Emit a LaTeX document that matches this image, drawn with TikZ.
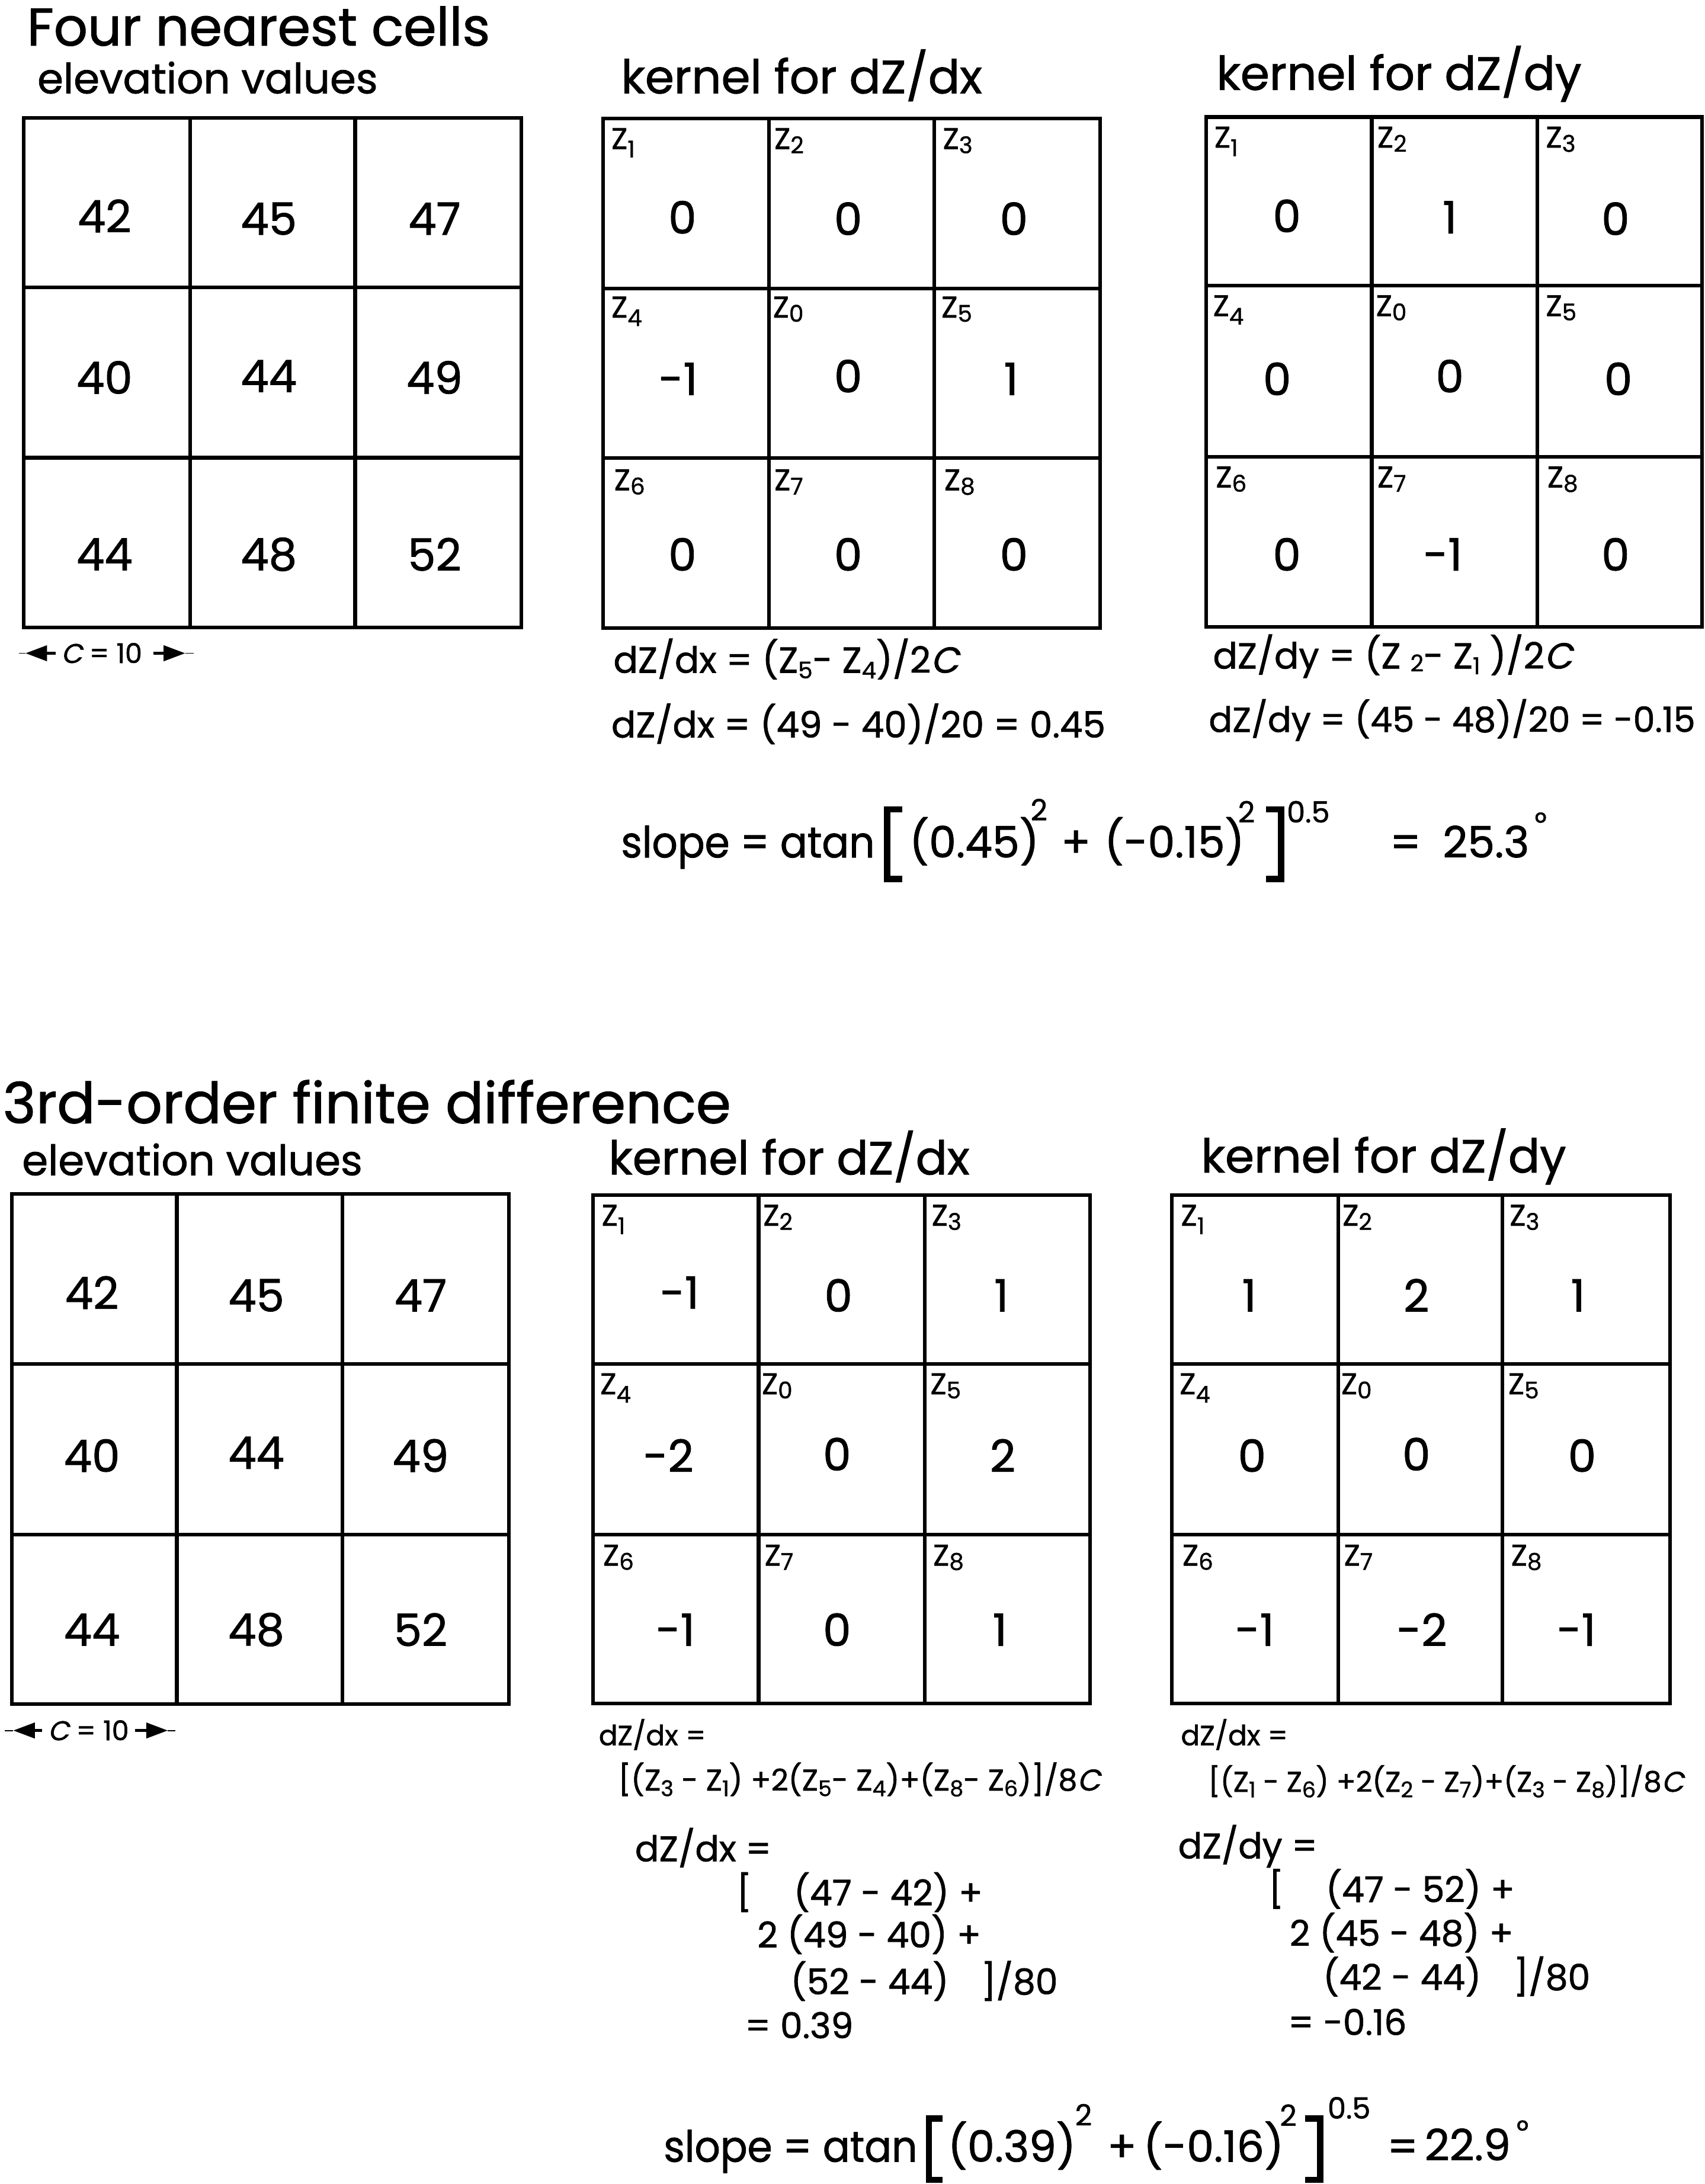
\documentclass[tikz,border=0pt]{standalone}
\usepackage{fontspec}
\setmainfont{Poppins}[FakeBold=1.2]
\newfontfamily\itC[FakeSlant=0.22,FakeBold=1.2]{Poppins}
\usetikzlibrary{arrows.meta}
\newcommand{\zsub}[2][4]{\raisebox{-#1pt}{\fontsize{16.5}{16.5}\selectfont #2}}
\newcommand{\zsb}[2][4]{\raisebox{-#1pt}{\fontsize{15.5}{15.5}\selectfont #2}}
\newcommand{\drawgrid}[8]{%
  \draw[gridln] (#1,#5) rectangle (#4,#8);
  \draw[gridln] (#2,#5) -- (#2,#8) (#3,#5) -- (#3,#8) (#1,#6) -- (#4,#6) (#1,#7) -- (#4,#7);}
\newcommand{\zl}[5]{\node[zlab] (#1) at (#2,#3) {Z\zsub[#5]{#4}};}
\newcommand{\cv}[4]{\node[num] (#1) at (#2,#3) {#4};}
\tikzset{
  every node/.style={inner sep=0pt, outer sep=0pt},
  titletxt/.style={anchor=base west, font=\fontsize{38}{40}\selectfont},
  headtxt/.style={anchor=base west, font=\fontsize{33.5}{35}\selectfont},
  elevtxt/.style={anchor=base west, font=\fontsize{30}{32}\selectfont},
  num/.style={anchor=center, font=\fontsize{32}{34}\selectfont},
  zlab/.style={anchor=base west, font=\fontsize{21.5}{24}\selectfont},
  frm/.style={anchor=base west, font=\fontsize{26}{28}\selectfont},
  frs/.style={anchor=base west, font=\fontsize{20}{22}\selectfont},
  frz/.style={anchor=base west, font=\fontsize{21.5}{24}\selectfont},
  frb/.style={anchor=base west, font=\fontsize{25.5}{28}\selectfont},
  slp/.style={anchor=base west, font=\fontsize{31}{34}\selectfont},
  suptxt/.style={anchor=base west, font=\fontsize{21}{22}\selectfont},
  clab/.style={anchor=base west, font=\fontsize{19.5}{21}\selectfont},
  gridln/.style={line width=2.6pt},
  thinln/.style={line width=0.8pt},
  arr/.style={line width=2pt, -{Triangle[length=15.5pt,width=11pt]}},
  brk/.style={line width=4.5pt},
}
\begin{document}
\begin{tikzpicture}[x=1pt,y=-1pt]
\useasboundingbox[fill=white] (0,0) rectangle (1224,1568);

% ================= TOP =================
\node[titletxt] (t1) at (19.5,32.7) {Four nearest cells};
\node[elevtxt] (h1) at (26.9,67) {elevation values};
\node[headtxt] (h2) at (446,67) {kernel for dZ/dx};
\node[headtxt] (h3) at (873.5,64.5) {kernel for dZ/dy};

\drawgrid{17}{136.5}{255}{374.5}{84.5}{206.5}{328.6}{450.5}
\drawgrid{433}{552}{671}{790}{85}{207}{329}{451}
\drawgrid{866}{985}{1104}{1222}{84}{205}{328}{450}

\cv{a11}{75}{155}{42}\cv{a12}{193}{157}{45}\cv{a13}{312}{157}{47}
\cv{a21}{75}{271}{40}\cv{a22}{193}{270}{44}\cv{a23}{312}{271}{49}
\cv{a31}{75}{398}{44}\cv{a32}{193}{398}{48}\cv{a33}{312}{398}{52}

\cv{b11}{490}{156}{0}\cv{b12}{609}{157}{0}\cv{b13}{728}{157}{0}
\cv{b21}{487}{272}{-1}\cv{b22}{609}{270}{0}\cv{b23}{726}{272}{1}
\cv{b31}{490}{398}{0}\cv{b32}{609}{398}{0}\cv{b33}{728}{398}{0}

\cv{c11}{924}{155}{0}\cv{c12}{1041}{156}{1}\cv{c13}{1160}{157}{0}
\cv{c21}{917}{272}{0}\cv{c22}{1041}{270}{0}\cv{c23}{1162}{272}{0}
\cv{c31}{924}{398}{0}\cv{c32}{1036}{398}{-1}\cv{c33}{1160}{398}{0}

\zl{bz1}{439}{107}{1}{6}\zl{bz2}{556}{107}{2}{3}\zl{bz3}{677}{107}{3}{3}
\zl{bz4}{439}{228}{4}{6}\zl{bz0}{555}{228}{0}{3}\zl{bz5}{676}{228}{5}{3}
\zl{bz6}{441}{352}{6}{3}\zl{bz7}{556}{352}{7}{3}\zl{bz8}{678}{352}{8}{3}

\zl{cz1}{872}{106}{1}{6}\zl{cz2}{989}{106}{2}{3}\zl{cz3}{1110}{106}{3}{3}
\zl{cz4}{871}{227}{4}{6}\zl{cz0}{988}{227}{0}{3}\zl{cz5}{1110}{227}{5}{3}
\zl{cz6}{873}{350}{6}{3}\zl{cz7}{989}{350}{7}{3}\zl{cz8}{1111}{350}{8}{3}

% C = 10 (top)
\node[clab] (c1) at (44,476) {{\itC C} = 10};
\coordinate (c1el) at (13.4,469); \coordinate (c1tl) at (18.3,469); \coordinate (c1sl) at (40,469);
\coordinate (c1er) at (139,469); \coordinate (c1tr) at (133,469); \coordinate (c1sr) at (110,469);
\draw[thinln] (c1el) -- (c1tl); \draw[arr] (c1sl) -- (c1tl);
\draw[thinln] (c1er) -- (c1tr); \draw[arr] (c1sr) -- (c1tr);

\node[frm] (f1) at (440.5,483) {dZ/dx = (Z\zsub{5}- Z\zsub{4})/2{\itC C}};
\node[frm] (f2) at (439,529.5) {dZ/dx = (49 - 40)/20 = 0.45};
\node[frm] (f3) at (871,480) {dZ/dy = (Z \zsub[2]{2}- Z\zsub{1} )/2{\itC C}};
\node[frm, font=\fontsize{25}{27}\selectfont] (f4) at (868,525.5) {dZ/dy = (45 - 48)/20 = -0.15};

% slope (top)
\node[slp] (s1a) at (446,615.6) {\scalebox{0.93}[1]{slope = atan}};
\coordinate (s1l1) at (648,581); \coordinate (s1l2) at (637,581);
\coordinate (s1l3) at (637,631); \coordinate (s1l4) at (648,631);
\draw[brk] (s1l1) -- (s1l2) -- (s1l3) -- (s1l4);
\node[slp] (s1b) at (653,615.6) {(0.45)};
\node[suptxt] (s1c) at (740,589) {2};
\node[slp] (s1d) at (762,615.6) {+};
\node[slp] (s1e) at (793,615.6) {(-0.15)};
\node[suptxt] (s1f) at (889,590.5) {2};
\coordinate (s1r1) at (909,581); \coordinate (s1r2) at (920,581);
\coordinate (s1r3) at (920,631); \coordinate (s1r4) at (909,631);
\draw[brk] (s1r1) -- (s1r2) -- (s1r3) -- (s1r4);
\node[suptxt] (s1g) at (924,590.5) {0.5};
\node[slp] (s1h) at (998,615.6) {=};
\node[slp] (s1i) at (1036,615.6) {25.3};
\node[suptxt] (s1j) at (1102,598) {°};

% ================= BOTTOM =================
\node[titletxt, font=\fontsize{40.5}{42}\selectfont] (t2) at (2,806.3) {3rd-order finite difference};
\node[elevtxt] (h4) at (15.9,843.7) {elevation values};
\node[headtxt] (h5) at (437,843.2) {kernel for dZ/dx};
\node[headtxt] (h6) at (862.5,841.8) {kernel for dZ/dy};

\drawgrid{8.6}{127}{245.7}{365.5}{857}{979.2}{1101.6}{1223.5}
\drawgrid{426}{544.7}{664}{782.6}{858}{979.4}{1101.8}{1223}
\drawgrid{841.4}{960.8}{1078.9}{1199}{858}{979.4}{1101.8}{1223}

\cv{d11}{66}{928}{42}\cv{d12}{184}{930}{45}\cv{d13}{302}{930}{47}
\cv{d21}{66}{1045}{40}\cv{d22}{184}{1043}{44}\cv{d23}{302}{1045}{49}
\cv{d31}{66}{1170}{44}\cv{d32}{184}{1170}{48}\cv{d33}{302}{1170}{52}

\cv{e11}{488}{928}{-1}\cv{e12}{602}{930}{0}\cv{e13}{719}{930}{1}
\cv{e21}{480}{1045}{-2}\cv{e22}{601}{1044}{0}\cv{e23}{720}{1045}{2}
\cv{e31}{485}{1170}{-1}\cv{e32}{601}{1170}{0}\cv{e33}{718}{1170}{1}

\cv{g11}{897}{930}{1}\cv{g12}{1017}{930}{2}\cv{g13}{1133}{930}{1}
\cv{g21}{899}{1045}{0}\cv{g22}{1017}{1044}{0}\cv{g23}{1136}{1045}{0}
\cv{g31}{901}{1170}{-1}\cv{g32}{1021}{1170}{-2}\cv{g33}{1132}{1170}{-1}

\zl{ez1}{432}{880}{1}{6}\zl{ez2}{548}{880}{2}{3}\zl{ez3}{669}{880}{3}{3}
\zl{ez4}{431}{1001}{4}{6}\zl{ez0}{547}{1001}{0}{3}\zl{ez5}{668}{1001}{5}{3}
\zl{ez6}{433}{1124}{6}{3}\zl{ez7}{549}{1124}{7}{3}\zl{ez8}{670}{1124}{8}{3}

\zl{gz1}{848}{880}{1}{6}\zl{gz2}{964}{880}{2}{3}\zl{gz3}{1084}{880}{3}{3}
\zl{gz4}{847}{1001}{4}{6}\zl{gz0}{963}{1001}{0}{3}\zl{gz5}{1083}{1001}{5}{3}
\zl{gz6}{849}{1124}{6}{3}\zl{gz7}{965}{1124}{7}{3}\zl{gz8}{1085}{1124}{8}{3}

% C = 10 (bottom)
\node[clab] (c2) at (34.5,1249.4) {{\itC C} = 10};
\coordinate (c2el) at (3.4,1242.4); \coordinate (c2tl) at (9.5,1242.4); \coordinate (c2sl) at (30,1242.4);
\coordinate (c2er) at (126,1242.4); \coordinate (c2tr) at (120.5,1242.4); \coordinate (c2sr) at (97,1242.4);
\draw[thinln] (c2el) -- (c2tl); \draw[arr] (c2sl) -- (c2tl);
\draw[thinln] (c2er) -- (c2tr); \draw[arr] (c2sr) -- (c2tr);

\node[frs] (z1a) at (430,1253) {dZ/dx =};
\node[frz] (z1b) at (444,1285.5) {[(Z\zsb{3} - Z\zsb{1}) +2(Z\zsb{5}- Z\zsb{4})+(Z\zsb{8}- Z\zsb{6})]/8{\itC C}};
\node[frs] (z2a) at (848,1253) {dZ/dx =};
\node[frz, font=\fontsize{20.5}{23}\selectfont] (z2b) at (867.6,1286.4) {[(Z\zsb{1} - Z\zsb{6}) +2(Z\zsb{2} - Z\zsb{7})+(Z\zsb{3} - Z\zsb{8})]/8{\itC C}};

\node[frb] (x0) at (456,1336.3) {dZ/dx =};
\node[frb] (x1a) at (529,1368) {[};
\node[frb] (x1b) at (570,1368) {(47 - 42) +};
\node[frb] (x2) at (543.8,1398.2) {2 (49 - 40) +};
\node[frb] (x3a) at (567.7,1431.8) {(52 - 44)};
\node[frb] (x3b) at (704.5,1431.8) {]/80};
\node[frb] (x4) at (535,1463.3) {= 0.39};

\node[frb] (y0) at (846,1334.2) {dZ/dy =};
\node[frb] (y1a) at (911,1365.6) {[};
\node[frb] (y1b) at (952,1365.6) {(47 - 52) +};
\node[frb] (y2) at (926,1397) {2 (45 - 48) +};
\node[frb] (y3a) at (950,1428.6) {(42 - 44)};
\node[frb] (y3b) at (1086.8,1428.6) {]/80};
\node[frb] (y4) at (925,1461) {= -0.16};

% slope (bottom)
\node[slp] (s2a) at (476.6,1552) {\scalebox{0.93}[1]{slope = atan}};
\coordinate (s2l1) at (677,1521); \coordinate (s2l2) at (667,1521);
\coordinate (s2l3) at (667,1565); \coordinate (s2l4) at (677,1565);
\draw[brk] (s2l1) -- (s2l2) -- (s2l3) -- (s2l4);
\node[slp] (s2b) at (680.6,1552) {(0.39)};
\node[suptxt] (s2c) at (772,1526) {2};
\node[slp] (s2d) at (795,1552) {+};
\node[slp] (s2e) at (821,1552) {(-0.16)};
\node[suptxt] (s2f) at (919,1526.3) {2};
\coordinate (s2r1) at (937,1521); \coordinate (s2r2) at (948,1521);
\coordinate (s2r3) at (948,1565); \coordinate (s2r4) at (937,1565);
\draw[brk] (s2r1) -- (s2r2) -- (s2r3) -- (s2r4);
\node[suptxt] (s2g) at (953.3,1521) {0.5};
\node[slp] (s2h) at (996,1552) {=};
\node[slp] (s2i) at (1023,1551) {22.9};
\node[suptxt] (s2j) at (1089,1537) {°};
\end{tikzpicture}
\end{document}
